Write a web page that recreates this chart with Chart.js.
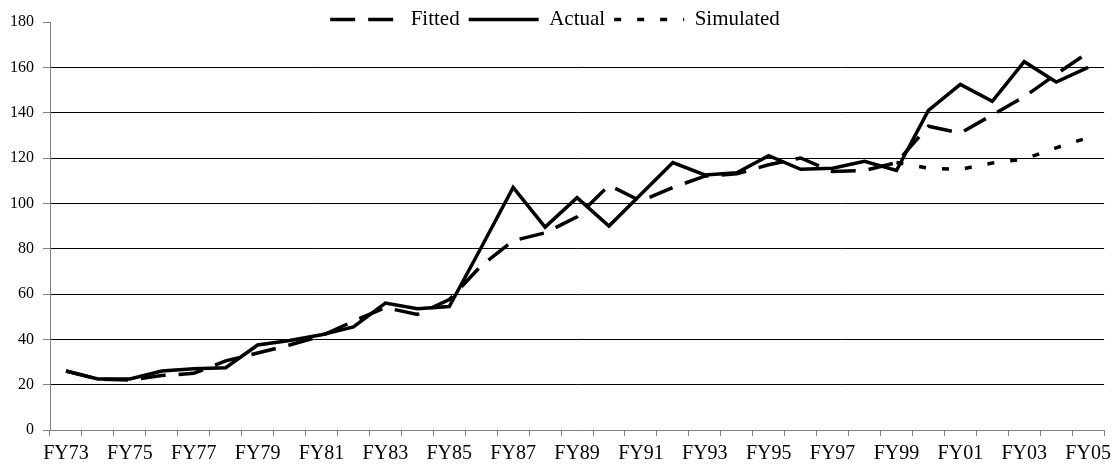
<!DOCTYPE html>
<html>
<head>
<meta charset="utf-8">
<title>Fitted, Actual and Simulated</title>
<script src="https://cdn.jsdelivr.net/npm/chart.js@4/dist/chart.umd.min.js"></script>
<style>
  html, body { margin: 0; padding: 0; background: #fff; }
  #wrap { width: 1117px; height: 466px; }
</style>
</head>
<body>
<div id="wrap"><canvas id="chart"></canvas></div>
<script>
// Fiscal years FY73 .. FY05
const YEARS = [
  "FY73", "FY74", "FY75", "FY76", "FY77", "FY78", "FY79", "FY80", "FY81", "FY82", "FY83",
  "FY84", "FY85", "FY86", "FY87", "FY88", "FY89", "FY90", "FY91", "FY92", "FY93", "FY94",
  "FY95", "FY96", "FY97", "FY98", "FY99", "FY00", "FY01", "FY02", "FY03", "FY04", "FY05",
];

const FITTED = [
  26, 22.5, 22, 24, 25, 30.5, 34, 37.5, 41.5, 48, 54,
  51, 57.5, 72.5, 83.5, 87, 94, 108, 101, 107, 112, 113,
  117, 120, 114, 114.5, 118, 134, 131, 139, 147, 157, 166.5,
];

const ACTUAL = [
  26, 22.5, 22.5, 26, 27, 27.5, 37.5, 39.5, 42, 45.5, 56,
  53.5, 54.5, 80.5, 107, 89.5, 102.5, 90, 104, 118, 112.5, 113.5,
  121, 115, 115.5, 118.5, 114.5, 141, 152.5, 145, 162.5, 153.5, 160,
];

const SIMULATED = [
  null, null, null, null, null, null, null, null, null, null, null,
  null, null, null, null, null, null, null, null, null, null, null,
  null, null, null, null, 118, 115.5, 115, 117.8, 119.5, 124.5, 129,
];

const Y_TICKS = { min: 0, max: 180, step: 20 };

const AXIS_GRAY = "#808080";

Chart.defaults.font.family = "'Liberation Serif', 'Times New Roman', serif";
Chart.defaults.color = "#000";

function lineDataset(label, data, dash) {
  return {
    label,
    data,
    borderColor: "#000",
    backgroundColor: "#000",
    borderWidth: 3.5,
    borderDash: dash,
    borderCapStyle: "butt",
    borderJoinStyle: "miter",
    pointRadius: 0,
    pointHoverRadius: 0,
    tension: 0,
    fill: false,
  };
}

function legendLabels(chart) {
  const base = Chart.defaults.plugins.legend.labels.generateLabels(chart);
  return base.map((item) => {
    const ds = chart.data.datasets[item.datasetIndex];
    return {
      ...item,
      pointStyle: "line",
      lineDash: ds.borderDash || [],
      lineWidth: ds.borderWidth,
      strokeStyle: ds.borderColor,
      lineCap: "butt",
    };
  });
}

// the legend sits over the top edge of the plot, as in the original;
// keep its layout height small but let it draw its full text
const legendOverlap = {
  id: "legendOverlap",
  afterLayout(chart) {
    const lg = chart.legend;
    if (lg) lg.bottom = lg.top + 44;
  },
};

new Chart(document.getElementById("chart"), {
  type: "line",
  data: {
    labels: YEARS,
    datasets: [
      lineDataset("Fitted", FITTED, [25, 13]),
      lineDataset("Actual", ACTUAL, []),
      lineDataset("Simulated", SIMULATED, [7, 16]),
    ],
  },
  plugins: [legendOverlap],
  options: {
    responsive: true,
    maintainAspectRatio: false,
    animation: false,
    layout: { padding: { left: 0, right: 7, top: 0, bottom: 0 } },
    scales: {
      x: {
        type: "category",
        offset: true,
        afterFit: (scale) => { scale.height = 36; },
        grid: {
          offset: true,
          drawOnChartArea: false,
          drawTicks: true,
          tickLength: 6,
          color: AXIS_GRAY,
        },
        border: { color: AXIS_GRAY, width: 1 },
        ticks: {
          autoSkip: false,
          maxRotation: 0,
          minRotation: 0,
          padding: 6,
          font: { size: 20 },
          callback: (value, index) => (index % 2 === 0 ? YEARS[index] : ""),
        },
      },
      y: {
        min: Y_TICKS.min,
        max: Y_TICKS.max,
        afterFit: (scale) => { scale.width = 50; },
        grid: {
          drawTicks: true,
          tickLength: 7,
          tickColor: AXIS_GRAY,
          lineWidth: 1,
          color: (ctx) => {
            const v = ctx.tick && ctx.tick.value;
            if (v === Y_TICKS.max) return "rgba(0,0,0,0)";
            if (v === Y_TICKS.min) return AXIS_GRAY;
            return "#000";
          },
        },
        border: { color: AXIS_GRAY, width: 1 },
        ticks: {
          stepSize: Y_TICKS.step,
          padding: 9,
          font: { size: 16 },
        },
      },
    },
    plugins: {
      legend: {
        position: "top",
        align: "center",
        maxHeight: 22,
        labels: {
          usePointStyle: true,
          pointStyleWidth: 70,
          boxHeight: 21,
          padding: 9,
          font: { size: 21 },
          color: "#000",
          generateLabels: legendLabels,
        },
      },
      tooltip: { enabled: false },
    },
  },
});
</script>
</body>
</html>
